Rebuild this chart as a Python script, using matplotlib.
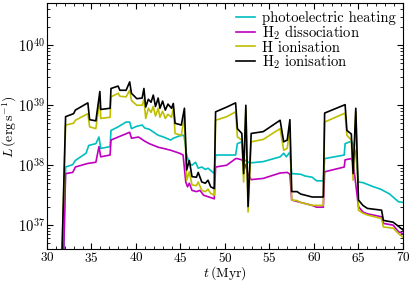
import numpy as np
import matplotlib
matplotlib.use('Agg')
import matplotlib.pyplot as plt
from matplotlib.ticker import MultipleLocator

plt.rcParams['font.family'] = 'serif'
plt.rcParams['font.serif'] = ['cmr10']
plt.rcParams['mathtext.fontset'] = 'cm'
plt.rcParams['axes.formatter.use_mathtext'] = True

# time breakpoints (Myr) shared by the two ionisation curves
t_ion = [31.6, 32.1, 33.0, 33.2, 34.6, 34.8, 35.5, 35.95, 36.05, 37.1,
         37.2, 38.0, 38.2, 38.9, 39.3, 39.5, 40.1, 40.7, 40.9, 41.1,
         41.4, 41.7, 41.95, 42.2, 42.5, 42.7, 43.0, 43.3, 43.6, 44.0,
         44.2, 44.4, 45.1, 45.45, 45.7, 46.0, 46.3, 46.8, 47.0, 47.4,
         47.8, 48.1, 48.4, 48.8, 48.95, 50.2, 51.2, 51.4, 51.9, 52.1,
         52.35, 52.6, 52.95, 54.3, 56.2, 56.6, 57.0, 57.3, 57.5, 58.1,
         58.5, 59.8, 61.05, 61.2, 63.5, 63.7, 64.2, 64.4, 64.7, 65.0,
         65.5, 66.0, 67.6, 67.8, 68.9, 69.5, 70.0]
# log10 L for H2 ionisation
logL_h2ion = [36.0, 38.81, 38.86, 38.92, 39.04, 38.76, 38.74, 39.23, 38.93, 38.95,
              39.28, 39.32, 39.25, 39.25, 39.39, 39.2, 39.11, 39.12, 39.28, 38.97,
              39.1, 39.05, 39.17, 38.98, 39.12, 38.95, 39.07, 38.92, 39.02, 38.95,
              39.03, 38.7, 38.67, 38.95, 37.92, 38.08, 37.81, 37.8, 37.88, 37.72,
              37.7, 37.75, 37.64, 37.61, 38.89, 38.97, 39.04, 38.61, 38.53, 37.86,
              39.0, 37.31, 38.53, 38.56, 38.75, 38.39, 38.42, 38.76, 37.56, 37.56,
              37.52, 37.47, 37.47, 38.87, 39.01, 38.58, 38.52, 37.86, 38.95, 37.42,
              37.33, 37.28, 37.25, 37.08, 37.05, 36.98, 36.92]
# log10 L for H ionisation
logL_hion = [36.0, 38.67, 38.7, 38.75, 38.86, 38.64, 38.61, 39.11, 38.78, 38.8,
             39.14, 39.2, 39.15, 39.14, 39.25, 39.08, 39.0, 39.0, 39.1, 38.78,
             38.95, 38.88, 38.98, 38.82, 38.95, 38.8, 38.9, 38.78, 38.85, 38.8,
             38.95, 38.53, 38.5, 38.81, 37.75, 37.89, 37.67, 37.66, 37.72, 37.58,
             37.56, 37.6, 37.53, 37.5, 38.75, 38.81, 38.89, 38.47, 38.42, 37.72,
             38.92, 37.22, 38.39, 38.43, 38.61, 38.25, 38.28, 38.64, 37.42, 37.41,
             37.38, 37.33, 37.33, 38.72, 38.87, 38.5, 38.42, 37.75, 38.89, 37.25,
             37.2, 37.17, 37.11, 36.97, 36.95, 36.86, 36.8]

t_pe = [31.8, 32.1, 32.9, 33.2, 34.4, 34.7, 35.5, 35.85, 36.05, 37.1,
        37.2, 38.0, 38.9, 39.3, 39.5, 40.1, 40.7, 41.0, 41.5, 42.0,
        42.5, 43.1, 43.9, 44.2, 44.9, 45.4, 45.7, 46.0, 46.3, 46.7,
        47.0, 47.4, 47.8, 48.1, 48.5, 48.8, 48.95, 50.2, 51.2, 51.4,
        51.9, 52.1, 52.6, 52.95, 54.3, 56.2, 56.6, 56.9, 57.3, 57.5,
        58.5, 59.0, 59.8, 60.3, 61.05, 61.2, 63.4, 63.5, 64.2, 64.4,
        64.7, 65.0, 65.5, 66.7, 67.5, 68.0, 68.5, 69.5, 70.0]
logL_pe = [36.0, 37.97, 38.01, 38.08, 38.2, 38.33, 38.36, 38.47, 38.28, 38.31,
           38.58, 38.64, 38.72, 38.72, 38.61, 38.65, 38.67, 38.62, 38.6, 38.55,
           38.5, 38.47, 38.42, 38.45, 38.49, 38.5, 38.17, 38.03, 38.0, 38.05,
           37.95, 37.97, 37.93, 37.95, 37.9, 37.86, 38.17, 38.17, 38.17, 38.36,
           38.39, 38.1, 38.05, 38.04, 38.06, 38.14, 38.2, 38.14, 38.22, 37.86,
           37.85, 37.82, 37.8, 37.74, 37.74, 38.11, 38.17, 38.36, 38.4, 38.35,
           38.2, 37.72, 37.71, 37.64, 37.6, 37.56, 37.52, 37.39, 37.38]

t_h2dis = [31.8, 32.1, 32.9, 33.2, 34.6, 35.5, 35.85, 36.05, 37.1, 37.2,
           38.0, 38.5, 39.3, 39.5, 40.3, 41.0, 41.5, 42.0, 42.5, 43.1,
           43.9, 44.9, 45.3, 45.6, 45.8, 46.0, 46.3, 46.8, 47.2, 47.6,
           48.0, 48.4, 48.8, 48.95, 50.2, 51.2, 51.4, 51.9, 52.3, 52.6,
           52.95, 54.3, 56.2, 57.0, 57.3, 57.5, 58.5, 59.8, 60.3, 61.05,
           61.2, 63.4, 63.5, 64.2, 64.4, 65.0, 65.5, 66.0, 67.6, 67.8,
           68.9, 69.5, 70.0]
logL_h2dis = [36.0, 37.86, 37.88, 37.97, 38.03, 38.05, 38.31, 38.14, 38.17, 38.42,
              38.47, 38.5, 38.55, 38.45, 38.47, 38.4, 38.36, 38.33, 38.3, 38.28,
              38.25, 38.2, 38.17, 37.72, 37.64, 37.7, 37.58, 37.56, 37.58, 37.5,
              37.48, 37.46, 37.44, 37.97, 38.0, 38.11, 38.11, 38.09, 38.0, 37.85,
              37.76, 37.78, 37.87, 37.88, 37.85, 37.42, 37.38, 37.33, 37.3, 37.3,
              37.89, 37.97, 38.09, 38.11, 38.05, 37.31, 37.22, 37.19, 37.14, 37.03,
              37.0, 36.89, 36.86]

fig, ax = plt.subplots(figsize=(4.15, 2.83), dpi=100)
fig.subplots_adjust(left=0.113, right=0.971, top=0.988, bottom=0.12)

lw = 1.2
ax.plot(t_pe, 10**np.array(logL_pe), color='c', lw=lw, label='photoelectric heating')
ax.plot(t_h2dis, 10**np.array(logL_h2dis), color='m', lw=lw, label=r'H$_2$ dissociation')
ax.plot(t_ion, 10**np.array(logL_hion), color='y', lw=lw, label='H ionisation')
ax.plot(t_ion, 10**np.array(logL_h2ion), color='k', lw=lw, label=r'H$_2$ ionisation')

ax.set_yscale('log')
ax.set_xlim(30, 70)
ax.set_ylim(4e36, 5e40)
ax.xaxis.set_major_locator(MultipleLocator(5))
ax.xaxis.set_minor_locator(MultipleLocator(1))
ax.tick_params(which='both', direction='in', top=True, right=True)
ax.tick_params(which='major', length=4)
ax.tick_params(which='minor', length=2)
ax.tick_params(axis='x', labelsize=9.5, pad=1.5)
ax.tick_params(axis='y', labelsize=10.5, pad=1.5)

ax.set_xlabel(r'$t\,(\mathrm{Myr})$', fontsize=10)
ax.set_ylabel(r'$L\,(\mathrm{erg\,s^{-1}})$', fontsize=10)
ax.xaxis.set_label_coords(0.5, -0.062)
ax.yaxis.set_label_coords(-0.078, 0.5)
ax.legend(loc='upper right', frameon=False, fontsize=10.5, handlelength=1.3,
          handletextpad=0.45, labelspacing=-0.08, borderaxespad=0.2,
          borderpad=0.3)

fig.savefig('out.png', dpi=100)
